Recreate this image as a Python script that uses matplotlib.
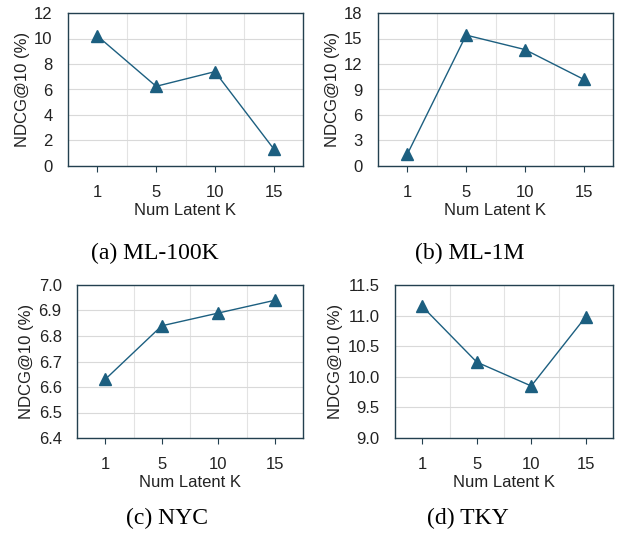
import matplotlib.pyplot as plt

# values
k_labels = ["1", "5", "10", "15"]
ml100k = [10.2, 6.25, 7.4, 1.35]
ml1m = [1.4, 15.4, 13.7, 10.2]
nyc = [6.63, 6.84, 6.89, 6.94]
tky = [11.15, 10.24, 9.85, 10.98]

captions = ["(a) ML-100K", "(b) ML-1M", "(c) NYC", "(d) TKY"]
yticks_list = [
    [0, 2, 4, 6, 8, 10, 12],
    [0, 3, 6, 9, 12, 15, 18],
    [6.4, 6.5, 6.6, 6.7, 6.8, 6.9, 7.0],
    [9.0, 9.5, 10.0, 10.5, 11.0, 11.5],
]
yfmt = ["{:.0f}", "{:.0f}", "{:.1f}", "{:.1f}"]

W, H = 620, 540
# axes boxes in pixels: left, top, right, bottom
boxes = [(68, 13, 303, 166), (378, 13, 613, 166),
         (77, 285, 303, 438), (395, 285, 613, 438)]
cap_pos = [(155, 253), (470, 253), (167, 518), (468, 518)]

line_color = "#1c5f80"
spine_color = "#23404f"

plt.rcParams['font.family'] = ['Liberation Sans', 'DejaVu Sans']

fig = plt.figure(figsize=(W / 100, H / 100), dpi=100)
fig.patch.set_facecolor("white")

for i, vals in enumerate([ml100k, ml1m, nyc, tky]):
    l, t, r, b = boxes[i]
    ax = fig.add_axes([l / W, 1 - b / H, (r - l) / W, (b - t) / H])
    x = list(range(len(k_labels)))
    ax.plot(x, vals, color=line_color, lw=1.0, marker="^", ms=8,
            markerfacecolor=line_color, markeredgecolor=line_color, zorder=3)
    yt = yticks_list[i]
    ax.set_ylim(yt[0], yt[-1])
    ax.set_yticks(yt)
    ax.set_yticklabels([yfmt[i].format(v) for v in yt])
    ax.set_xlim(-0.5, 3.5)
    ax.set_xticks(x)
    ax.set_xticklabels(k_labels)
    # horizontal grid at ticks, vertical grid between categories
    ax.grid(axis="y", color="#d9d9d9", lw=0.8)
    for gx in [0.5, 1.5, 2.5]:
        ax.axvline(gx, color="#e3e3e3", lw=0.8, zorder=0)
    ax.set_axisbelow(True)
    for s in ax.spines.values():
        s.set_color(spine_color)
        s.set_linewidth(1.0)
    ax.tick_params(axis="y", length=0, labelsize=12, pad=11, colors="#222222")
    ax.tick_params(axis="x", length=4, direction="out", labelsize=12,
                   pad=10, colors=spine_color, labelcolor="#222222")
    ax.set_xlabel("Num Latent K", fontsize=12, color="#222222", labelpad=2)
    ax.set_ylabel("NDCG@10 (%)", fontsize=12, color="#222222", labelpad=3)
    cx, cy = cap_pos[i]
    fig.text(cx / W, 1 - cy / H, captions[i], ha="center", va="center",
             fontsize=17, family=["Liberation Serif", "DejaVu Serif"])

fig.savefig("out.png", dpi=100)
